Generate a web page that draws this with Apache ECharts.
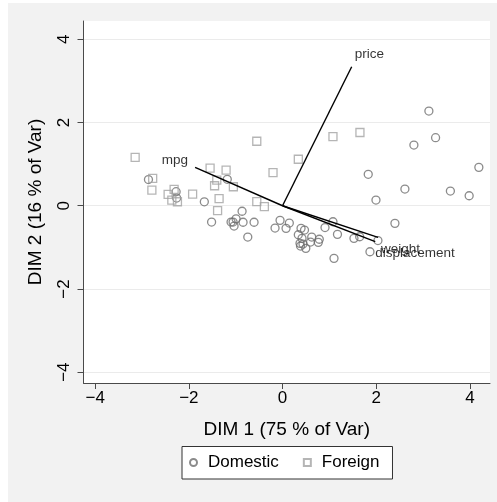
<!DOCTYPE html>
<html>
<head>
<meta charset="utf-8">
<script src="https://cdn.jsdelivr.net/npm/echarts@6/dist/echarts.min.js"></script>
<style>
  html, body { margin: 0; padding: 0; background: #ffffff; }
  #chart { position: absolute; left: 8px; top: 3px; width: 489px; height: 499px; }
</style>
</head>
<body>
<div id="chart"></div>
<script>
// Biplot of the first two principal dimensions: car scores by origin plus variable loadings.

const domesticScores = [
  [-2.863, 0.630], [-2.272, 0.337], [-2.261, 0.185], [-1.670, 0.094], [-1.180, 0.635],
  [-1.515, -0.392], [-0.864, -0.132], [-1.099, -0.392], [-1.035, -0.488], [-0.992, -0.315],
  [-1.056, -0.392], [-0.843, -0.397], [-0.608, -0.397], [-0.742, -0.752], [-0.053, -0.351],
  [-0.160, -0.536], [0.145, -0.416], [0.075, -0.543], [0.395, -0.543], [0.469, -0.584],
  [0.337, -0.697], [0.416, -0.784], [0.373, -0.904], [0.437, -0.921], [0.384, -0.969],
  [0.497, -1.024], [0.623, -0.752], [0.785, -0.805], [0.764, -0.880], [0.597, -0.873],
  [0.907, -0.524], [1.077, -0.385], [1.173, -0.688], [1.525, -0.784], [1.647, -0.745],
  [1.099, -1.264], [1.867, -1.106], [2.037, -0.837], [2.400, -0.423], [1.995, 0.137],
  [1.830, 0.755], [2.613, 0.401], [2.805, 1.459], [3.268, 1.635], [3.125, 2.276],
  [3.584, 0.353], [3.985, 0.240], [4.192, 0.923]
];

const foreignScores = [
  [-3.147, 1.163], [-2.773, 0.659], [-2.790, 0.377], [-2.315, 0.394], [-2.443, 0.274],
  [-2.364, 0.137], [-2.244, 0.096], [-1.920, 0.281], [-1.547, 0.906], [-1.205, 0.858],
  [-1.404, 0.618], [-1.451, 0.481], [-1.050, 0.457], [-1.355, 0.173], [-1.387, -0.115],
  [-0.550, 0.101], [-0.388, -0.019], [-0.203, 0.798], [0.337, 1.118], [-0.550, 1.550],
  [1.077, 1.663], [1.653, 1.760]
];

const loadingNames = ['price', 'mpg', 'weight', 'displacement'];
const loadingDim1 = [1.476, -1.867, 2.04, 1.98];
const loadingDim2 = [3.34, 0.923, -0.76, -0.86];

const tickValues = [-4, -2, 0, 2, 4];
const groupNames = ['Domestic', 'Foreign'];
const axisTitles = ['DIM 1 (75 % of Var)', 'DIM 2 (16 % of Var)'];

const FONT = '"Liberation Sans", Arial, Helvetica, sans-serif';
const minus = v => String(v).replace('-', '\u2212');

// label placement around each loading tip
const tipLabelStyle = {
  price:        { position: [3, -12], align: 'left' },
  mpg:          { position: [-7, -7], align: 'right' },
  weight:       { position: [3, 11.5], align: 'left' },
  displacement: { position: [0, 11.5], align: 'left' }
};

const chart = echarts.init(document.getElementById('chart'), null, { renderer: 'canvas' });

const loadingLines = loadingNames.map((name, i) => ({
  type: 'line',
  name: name,
  data: [[0, 0], [loadingDim1[i], loadingDim2[i]]],
  showSymbol: false,
  symbol: 'none',
  silent: true,
  lineStyle: { color: '#000000', width: 1.4 },
  z: 3
}));

const loadingTips = {
  type: 'scatter',
  name: 'tips',
  symbolSize: 0,
  silent: true,
  data: loadingNames.map((name, i) => ({
    name: name,
    value: [loadingDim1[i], loadingDim2[i]],
    label: {
      show: true,
      formatter: name,
      position: tipLabelStyle[name].position,
      align: tipLabelStyle[name].align,
      verticalAlign: 'middle',
      fontFamily: FONT,
      fontSize: 13.5,
      color: '#000000'
    }
  })),
  z: 4
};

const valueAxis = (title, extent, extra) => Object.assign({
  type: 'value',
  min: extent[0],
  max: extent[1],
  name: title,
  nameLocation: 'middle',
  nameTextStyle: { fontFamily: FONT, fontSize: 19, color: '#000000' },
  axisLine: { show: true, onZero: false, lineStyle: { color: '#4a4a4a', width: 1 } },
  axisTick: { show: true, inside: false, length: 6, customValues: tickValues,
              lineStyle: { color: '#4a4a4a', width: 1 } },
  axisLabel: { customValues: tickValues, formatter: minus, fontFamily: FONT,
               fontSize: 17, color: '#000000' }
}, extra);

const option = {
  backgroundColor: '#f2f2f2',
  animation: false,
  grid: {
    left: 75.5, top: 18, right: 7, bottom: 119,
    show: true, backgroundColor: '#ffffff', borderWidth: 0
  },
  xAxis: valueAxis(axisTitles[0], [-4.25, 4.43], {
    nameGap: 37,
    splitLine: { show: false }
  }),
  yAxis: valueAxis(axisTitles[1], [-4.26, 4.44], {
    nameGap: 38,
    splitLine: { show: true, lineStyle: { color: '#ebebeb', width: 1 } }
  }),
  legend: {
    data: [
      { name: groupNames[0], icon: 'circle' },
      { name: groupNames[1], icon: 'rect' }
    ],
    left: 174, top: 443.5,
    orient: 'horizontal',
    itemWidth: 7, itemHeight: 7,
    itemGap: 24,
    padding: [7.5, 13, 8, 7],
    backgroundColor: '#ffffff',
    borderColor: '#333333', borderWidth: 1, borderRadius: 0,
    selectedMode: false,
    textStyle: { fontFamily: FONT, fontSize: 17, color: '#000000', padding: [0, 0, 0, 6] }
  },
  series: [
    {
      type: 'scatter',
      name: groupNames[0],
      data: domesticScores,
      symbol: 'circle',
      symbolSize: 8,
      itemStyle: { color: 'rgba(0,0,0,0)', borderColor: '#6e6e6e', borderWidth: 1.3 },
      z: 2
    },
    {
      type: 'scatter',
      name: groupNames[1],
      data: foreignScores,
      symbol: 'rect',
      symbolSize: 8,
      itemStyle: { color: 'rgba(0,0,0,0)', borderColor: '#a3a3a3', borderWidth: 1.3 },
      z: 2
    },
    ...loadingLines,
    loadingTips
  ]
};

option.yAxis.axisLabel.rotate = 90;
option.yAxis.axisLabel.margin = 11;
option.xAxis.axisLabel.margin = 7;

chart.setOption(option);
</script>
</body>
</html>
